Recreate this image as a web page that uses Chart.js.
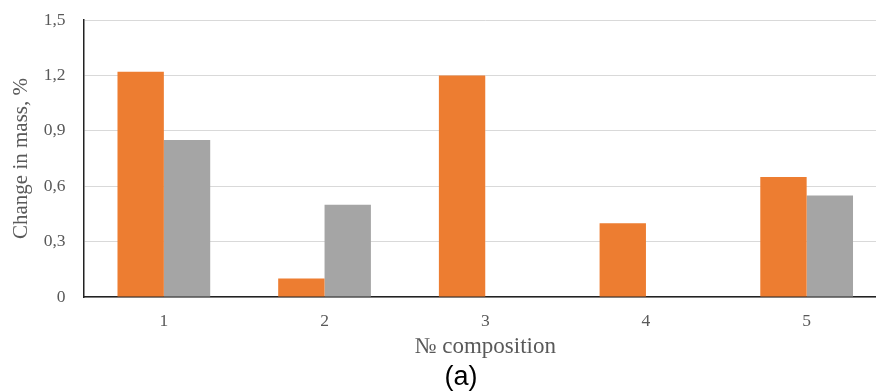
<!DOCTYPE html>
<html>
<head>
<meta charset="utf-8">
<script src="https://cdn.jsdelivr.net/npm/chart.js@4.4.1/dist/chart.umd.min.js"></script>
<style>
  html, body { margin: 0; padding: 0; background: #fff; overflow: hidden; }
  /* the plot runs on a little past the right edge of the frame */
  #wrap { width: 876px; height: 392px; overflow: hidden; }
</style>
</head>
<body>
<div id="wrap"><canvas id="chart" width="887" height="392"></canvas></div>
<script>
// Composition numbers along the x axis
const compositions = ['1', '2', '3', '4', '5'];
// Mass change, % (two measurement series per composition)
const seriesA = [1.22, 0.10, 1.20, 0.40, 0.65];
const seriesB = [0.85, 0.50, 0, 0, 0.55];
// Y axis ticks
const yTicks = [0, 0.3, 0.6, 0.9, 1.2, 1.5];
// Panel caption under the chart
const panelLabel = '(a)';

const serif = "'Liberation Serif', 'Times New Roman', serif";
const tickGray = '#595959';

// Draws the panel caption below the axis title
const panelCaption = {
  id: 'panelCaption',
  afterDraw(chart) {
    const ctx = chart.ctx;
    ctx.save();
    ctx.fillStyle = '#000';
    ctx.font = "27px 'Liberation Sans', Arial, sans-serif";
    ctx.textAlign = 'center';
    ctx.textBaseline = 'middle';
    ctx.fillText(panelLabel, 461, 378);
    ctx.restore();
  }
};

new Chart(document.getElementById('chart'), {
  type: 'bar',
  data: {
    labels: compositions,
    datasets: [
      { data: seriesA, backgroundColor: '#ed7d31', barPercentage: 1.0, categoryPercentage: 0.577 },
      { data: seriesB, backgroundColor: '#a5a5a5', barPercentage: 1.0, categoryPercentage: 0.577 }
    ]
  },
  plugins: [panelCaption],
  options: {
    responsive: false,
    animation: false,
    layout: { padding: { left: 0, right: 0, top: 20, bottom: 30 } },
    plugins: {
      legend: { display: false },
      tooltip: { enabled: false }
    },
    scales: {
      x: {
        afterFit: (axis) => { axis.height = 65; },
        grid: { display: false, drawTicks: false },
        border: { display: true, color: '#222', width: 1.5 },
        ticks: { color: tickGray, font: { family: serif, size: 17.5 }, padding: 14 },
        title: {
          display: true,
          text: '№ composition',
          color: tickGray,
          font: { family: serif, size: 23 },
          padding: { top: 0, bottom: 1 }
        }
      },
      y: {
        min: 0,
        max: 1.5,
        afterBuildTicks: (axis) => { axis.ticks = yTicks.map(v => ({ value: v })); },
        afterFit: (axis) => {
          axis.width = 83.5;
          // the top label may overhang the plot without pushing it down
          axis.paddingTop = 0;
        },
        grid: { color: '#d9d9d9', lineWidth: 1, drawTicks: false },
        border: { display: true, color: '#222', width: 1.5 },
        ticks: {
          color: tickGray,
          font: { family: serif, size: 17.5 },
          padding: 18,
          callback: (v) => (v === 0 ? '0' : v.toFixed(1).replace('.', ','))
        },
        title: {
          display: true,
          text: 'Change in mass, %',
          color: tickGray,
          font: { family: serif, size: 21 },
          padding: { top: 9, bottom: 0 }
        }
      }
    }
  }
});
</script>
</body>
</html>
